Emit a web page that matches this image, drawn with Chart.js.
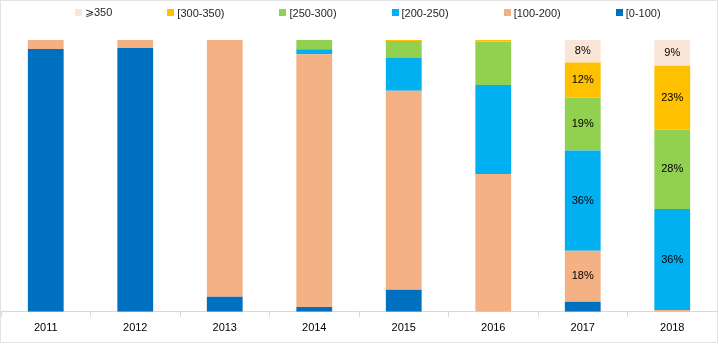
<!DOCTYPE html>
<html>
<head>
<meta charset="utf-8">
<script src="https://cdn.jsdelivr.net/npm/chart.js@4"></script>
<style>
  body { margin: 0; background: #fff; }
  #wrap { position: relative; width: 718px; height: 343px; border: 1px solid #e3e3e3; box-sizing: border-box; }
  #legend { position: absolute; top: 5px; left: 74px; display: flex; gap: 55px;
            font: 11px "Liberation Sans", Arial, sans-serif; color: #262626; }
  #legend .item { display: flex; align-items: center; white-space: nowrap; }
  #legend .box { width: 7px; height: 7px; margin-right: 3px; }
  canvas { display: block; }
</style>
</head>
<body>
<div id="wrap">
  <div id="legend"></div>
  <canvas id="chart" width="716" height="341"></canvas>
</div>
<script>
const years = ['2011', '2012', '2013', '2014', '2015', '2016', '2017', '2018'];

// share of each band per year, %
const band0_100   = [96.7, 97.1, 5.5, 1.8, 8.1, 0, 3.7, 0];
const band100_200 = [3.3, 2.9, 94.5, 93.0, 73.2, 50.7, 18.8, 0.7];
const band200_250 = [0, 0, 0, 1.8, 12.3, 32.7, 36.8, 37.1];
const band250_300 = [0, 0, 0, 3.4, 6.0, 16.0, 19.5, 29.2];
const band300_350 = [0, 0, 0, 0, 0.4, 0.6, 12.9, 23.5];
const band350     = [0, 0, 0, 0, 0, 0, 8.3, 9.5];

// printed labels (only 2017 and 2018 carry them)
const lbl100_200 = ['', '', '', '', '', '', '18%', ''];
const lbl200_250 = ['', '', '', '', '', '', '36%', '36%'];
const lbl250_300 = ['', '', '', '', '', '', '19%', '28%'];
const lbl300_350 = ['', '', '', '', '', '', '12%', '23%'];
const lbl350     = ['', '', '', '', '', '', '8%', '9%'];

const seriesNames = ['[0-100)', '[100-200)', '[200-250)', '[250-300)', '[300-350)', '\u2A7E350'];
const seriesColors = ['#0070C0', '#F4B183', '#00B0F0', '#92D050', '#FFC000', '#FBE5D6'];
const seriesData = [band0_100, band100_200, band200_250, band250_300, band300_350, band350];
const seriesLabels = [null, lbl100_200, lbl200_250, lbl250_300, lbl300_350, lbl350];

const barLabels = {
    id: 'barLabels',
    afterDatasetsDraw(chart) {
        const ctx = chart.ctx;
        ctx.save();
        ctx.font = '11px "Liberation Sans", Arial, sans-serif';
        ctx.fillStyle = '#000';
        ctx.textAlign = 'center';
        ctx.textBaseline = 'middle';
        chart.data.datasets.forEach((ds, i) => {
            if (!ds.pctLabels) return;
            chart.getDatasetMeta(i).data.forEach((bar, j) => {
                const t = ds.pctLabels[j];
                if (t) ctx.fillText(t, bar.x, (bar.y + bar.base) / 2);
            });
        });
        ctx.restore();
    }
};

const chart = new Chart(document.getElementById('chart'), {
    type: 'bar',
    data: {
        labels: years,
        datasets: seriesData.map((d, i) => ({
            label: seriesNames[i],
            data: d,
            backgroundColor: seriesColors[i],
            pctLabels: seriesLabels[i],
            barPercentage: 0.4,
            categoryPercentage: 1
        }))
    },
    options: {
        responsive: false,
        animation: false,
        layout: { padding: { top: 39, bottom: 2, left: 0, right: 0 } },
        plugins: {
            legend: { display: false },
            tooltip: { enabled: false }
        },
        scales: {
            x: {
                stacked: true,
                grid: { offset: true, drawOnChartArea: false, tickLength: 5, color: '#d9d9d9' },
                border: { color: '#d9d9d9' },
                ticks: { color: '#000', padding: 5, font: { family: '"Liberation Sans", Arial, sans-serif', size: 11 } }
            },
            y: { stacked: true, display: false, min: 0, max: 100 }
        }
    },
    plugins: [barLabels]
});

// legend, top row, highest band first
const legendEl = document.getElementById('legend');
for (let i = seriesNames.length - 1; i >= 0; i--) {
    const item = document.createElement('div');
    item.className = 'item';
    item.innerHTML = '<span class="box" style="background:' + seriesColors[i] + '"></span><span>' + seriesNames[i] + '</span>';
    legendEl.appendChild(item);
}
</script>
</body>
</html>
